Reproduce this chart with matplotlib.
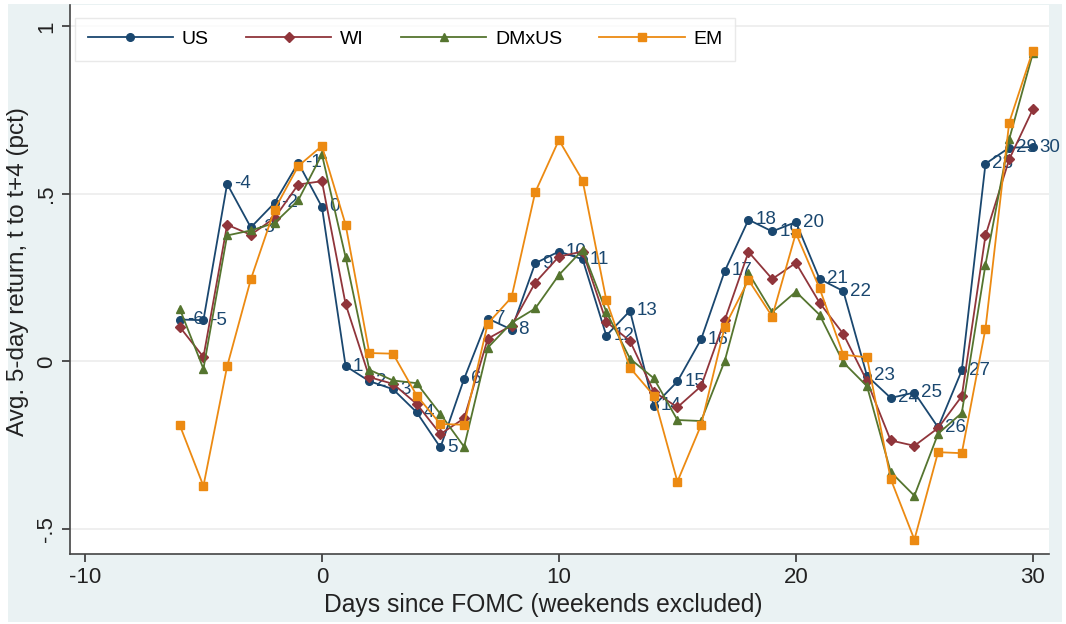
import matplotlib
matplotlib.use("Agg")
import matplotlib.pyplot as plt
from matplotlib.patches import Rectangle

plt.rcParams['font.family'] = ['Liberation Sans', 'DejaVu Sans']
plt.rcParams['axes.unicode_minus'] = False

days = list(range(-6, 31))

us = [0.125, 0.123, 0.53, 0.40, 0.473, 0.593, 0.461, -0.014, -0.059, -0.083,
      -0.152, -0.257, -0.052, 0.128, 0.095, 0.293, 0.328, 0.305, 0.077, 0.151,
      -0.133, -0.06, 0.066, 0.27, 0.423, 0.388, 0.416, 0.246, 0.210, -0.043,
      -0.109, -0.093, -0.197, -0.027, 0.590, 0.638, 0.640]
wi = [0.103, 0.013, 0.408, 0.378, 0.428, 0.528, 0.538, 0.171, -0.047, -0.067,
      -0.127, -0.217, -0.17, 0.068, 0.107, 0.235, 0.313, 0.328, 0.118, 0.061,
      -0.09, -0.137, -0.074, 0.124, 0.327, 0.246, 0.294, 0.175, 0.082, -0.059,
      -0.236, -0.252, -0.199, -0.104, 0.376, 0.603, 0.753]
dmxus = [0.157, -0.022, 0.376, 0.391, 0.413, 0.481, 0.618, 0.311, -0.025, -0.057,
         -0.065, -0.157, -0.255, 0.041, 0.115, 0.158, 0.258, 0.333, 0.148, 0.008,
         -0.05, -0.175, -0.178, 0.002, 0.264, 0.147, 0.208, 0.139, -0.003, -0.074,
         -0.33, -0.401, -0.216, -0.154, 0.289, 0.663, 0.92]
em = [-0.19, -0.372, -0.015, 0.245, 0.453, 0.583, 0.643, 0.408, 0.025, 0.023,
      -0.102, -0.187, -0.189, 0.113, 0.191, 0.505, 0.661, 0.54, 0.183, -0.019,
      -0.102, -0.359, -0.19, 0.104, 0.243, 0.134, 0.383, 0.218, 0.02, 0.012,
      -0.351, -0.532, -0.271, -0.274, 0.098, 0.713, 0.928]

xticks = [-10, 0, 10, 20, 30]
yticks = [-0.5, 0, 0.5, 1]
yticklabels = ['-.5', '0', '.5', '1']

W, H = 1066, 624
fig = plt.figure(figsize=(W / 100, H / 100), dpi=100, facecolor='white')
bg = Rectangle((8 / W, 2 / H), (1062 - 8) / W, (620 - 2) / H,
               transform=fig.transFigure, facecolor='#eaf2f3',
               edgecolor='none', zorder=-10)
fig.add_artist(bg)

AX_L, AX_R, AX_T, AX_B = 70, 1049, 5, 554
ax = fig.add_axes([AX_L / W, 1 - AX_B / H, (AX_R - AX_L) / W, (AX_B - AX_T) / H])
ax.set_zorder(1)
ax.set_facecolor('white')

navy = '#1a476f'
maroon = '#90353b'
green = '#55752f'
orange = '#ec8a12'

ax.plot(days, us, color=navy, marker='o', markersize=5.5, lw=1.3, zorder=3, label='US')
for d, v in zip(days, us):
    ax.annotate(str(d), (d, v), xytext=(5, 0), textcoords='offset points',
                va='center', ha='left', color=navy, fontsize=13.5, zorder=3)
ax.plot(days, wi, color=maroon, marker='D', markersize=5.2, lw=1.3, zorder=4, label='WI')
ax.plot(days, dmxus, color=green, marker='^', markersize=6.2, lw=1.3, zorder=5, label='DMxUS')
ax.plot(days, em, color=orange, marker='s', markersize=5.8, lw=1.3, zorder=6, label='EM')

ax.set_xlim(-10.63, 30.68)
ax.set_ylim(-0.575, 1.064)
ax.set_xticks(xticks)
ax.set_yticks(yticks)
ax.set_yticklabels(yticklabels, rotation=90, va='center')
ax.tick_params(axis='both', labelsize=16, colors='#333333', length=6, width=1.2,
               labelcolor='#222222')
ax.grid(axis='y', color='#ececec', lw=1.2, zorder=0)
ax.set_axisbelow(True)
for s in ['top', 'right']:
    ax.spines[s].set_visible(False)
for s in ['left', 'bottom']:
    ax.spines[s].set_color('#444444')
    ax.spines[s].set_linewidth(1.2)

ax.set_xlabel('Days since FOMC (weekends excluded)', fontsize=17.7, color='#222222')
ax.xaxis.set_label_coords((543.5 - AX_L) / (AX_R - AX_L), -(605 - AX_B) / (AX_B - AX_T))
ax.xaxis.label.set_va('center')
ax.set_ylabel('Avg. 5-day return, t to t+4 (pct)', fontsize=17.5, color='#222222')
ax.yaxis.set_label_coords(-(AX_L - 18) / (AX_R - AX_L), (AX_B - 272) / (AX_B - AX_T))
ax.yaxis.label.set_va('center')

leg = ax.legend(loc='upper left', bbox_to_anchor=(5 / 979, 1 - 13 / 549), ncol=4,
                fontsize=14, frameon=True, fancybox=False, handlelength=4.4,
                columnspacing=1.9, handletextpad=0.45, borderpad=0.65, borderaxespad=0,
                edgecolor='#e4e4e4')
leg.get_frame().set_linewidth(1.0)
leg.set_zorder(10)

fig.savefig('out.png', dpi=100, facecolor='white')
